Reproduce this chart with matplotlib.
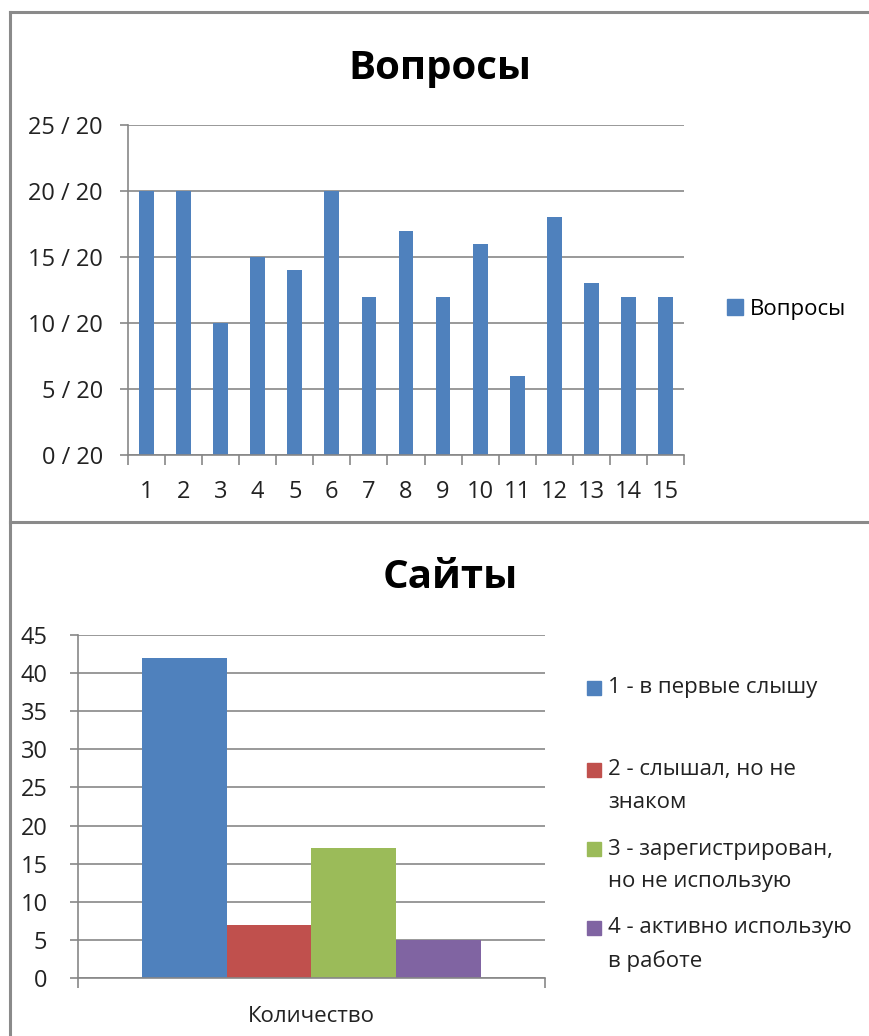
import matplotlib
matplotlib.use("Agg")
import matplotlib.pyplot as plt
from matplotlib.lines import Line2D
from matplotlib.patches import Patch

plt.rcParams['font.family'] = ['Open Sans', 'DejaVu Sans']

# ---- data ----
questions = list(range(1, 16))
question_scores = [20, 20, 10, 15, 14, 20, 12, 17, 12, 16, 6, 18, 13, 12, 12]
q_yticks = [0, 5, 10, 15, 20, 25]
q_ytick_labels = [f"{v} / 20" for v in q_yticks]

site_category = "Количество"
site_labels = ["1 - в первые слышу", "2 - слышал, но не\nзнаком",
               "3 - зарегистрирован,\nно не использую", "4 - активно использую\nв работе"]
site_values = [42, 7, 17, 5]
s_yticks = list(range(0, 50, 5))

colors = ["#4F81BD", "#C0504D", "#9BBB59", "#8064A2"]
GRID = "#878787"
TXT = "#222222"

W, H = 870, 1036
fig = plt.figure(figsize=(W / 100, H / 100), dpi=100)

def fx(px):
    return px / W

def fy(py):
    return 1 - py / H

# chart borders
for seg in [((10, 12), (870, 12)), ((10, 12), (10, 1036)), ((10, 522), (870, 522))]:
    (x0, y0), (x1, y1) = seg
    fig.add_artist(Line2D([fx(x0), fx(x1)], [fy(y0), fy(y1)], color="#8a8a8a", lw=2.2))

def style_axes(ax, pad):
    for s in ["top", "right"]:
        ax.spines[s].set_visible(False)
    for s in ["left", "bottom"]:
        ax.spines[s].set_color(GRID)
        ax.spines[s].set_linewidth(1.2)
    ax.yaxis.grid(True, color=GRID, lw=1.2)
    ax.set_axisbelow(True)
    ax.tick_params(axis="y", colors=GRID, labelcolor=TXT, length=6, width=1.2, labelsize=17, pad=pad)

# ---- top chart ----
ax1 = fig.add_axes([fx(128), fy(455), fx(684) - fx(128), fy(125) - fy(455)])
style_axes(ax1, 12)
ax1.bar(questions, question_scores, width=0.4, color=colors[0], label="Вопросы")
ax1.set_xlim(0.5, 15.5)
ax1.set_ylim(0, 25)
ax1.set_yticks(q_yticks)
ax1.set_yticklabels(q_ytick_labels)
ax1.set_xticks(questions)
ax1.set_xticklabels([str(q) for q in questions])
ax1.set_xticks([q + 0.5 for q in [0] + questions], minor=True)
ax1.tick_params(axis="x", which="major", length=0, labelsize=17, labelcolor=TXT, pad=18)
ax1.tick_params(axis="x", which="minor", length=7, width=1.2, color=GRID)
fig.text(fx(440), fy(68), "Вопросы", ha="center", va="center", fontsize=29, fontweight="bold", color="black")
ax1.legend(handles=[Patch(color=colors[0], label="Вопросы")], loc="center left",
           bbox_to_anchor=(fx(727), fy(309)), bbox_transform=fig.transFigure,
           frameon=False, fontsize=16, handlelength=0.7, handleheight=0.7, handletextpad=0.35,
           borderaxespad=0, borderpad=0)

# ---- bottom chart ----
ax2 = fig.add_axes([fx(78), fy(978), fx(545) - fx(78), fy(635) - fy(978)])
style_axes(ax2, 16)
bw = 0.181
offsets = [(i - 1.5) * bw for i in range(4)]
for i, (lab, val) in enumerate(zip(site_labels, site_values)):
    ax2.bar(offsets[i], val, width=bw, color=colors[i], label=lab)
ax2.set_xlim(-0.5, 0.5)
ax2.set_ylim(0, 45)
ax2.set_yticks(s_yticks)
ax2.set_xticks([0])
ax2.set_xticklabels([site_category])
ax2.set_xticks([-0.5, 0.5], minor=True)
ax2.tick_params(axis="x", which="major", length=0, labelsize=16, labelcolor=TXT, pad=20)
ax2.tick_params(axis="x", which="minor", length=7, width=1.2, color=GRID)
fig.text(fx(450), fy(577), "Сайты", ha="center", va="center", fontsize=29, fontweight="bold", color="black")

legend_pos = [688, 770, 849, 928]
line_gap = 33
for i, (lab, yy) in enumerate(zip(site_labels, legend_pos)):
    fig.add_artist(plt.Rectangle((fx(587), fy(yy + 7)), fx(14), fy(0) - fy(14),
                                 transform=fig.transFigure, color=colors[i]))
    for k, line in enumerate(lab.split("\n")):
        fig.text(fx(608), fy(yy + k * line_gap), line, ha="left", va="center", fontsize=16,
                 color=TXT)

fig.savefig("out.png", dpi=100)
